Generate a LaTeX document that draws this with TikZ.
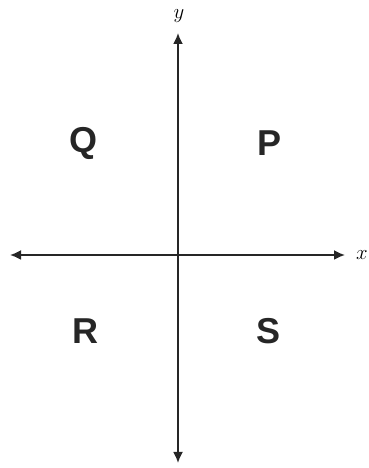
\documentclass[tikz,border=0pt]{standalone}
\usepackage{fontspec}
\newfontfamily\quadfont{Liberation Sans}
\usetikzlibrary{arrows.meta}
\begin{document}
\begin{tikzpicture}[x=1pt,y=1pt,
  axis/.style={line width=1.8pt,draw=black!85,{Latex[length=11pt,width=10pt]}-{Latex[length=11pt,width=10pt]}},
  quad/.style={font=\quadfont\bfseries\fontsize{36}{36}\selectfont,text=black!85,inner sep=0pt},
  axlabel/.style={font=\fontsize{20}{20}\selectfont,inner sep=0pt}]
\useasboundingbox (0,0) rectangle (369,468);
\coordinate (xl) at (10,213);
\coordinate (xr) at (345,213);
\coordinate (yb) at (178,5);
\coordinate (yt) at (178,435);
\draw[axis] (xl) -- (xr);
\draw[axis] (yb) -- (yt);
\node[axlabel] (ylab) at (179,452) {$y$};
\node[axlabel] (xlab) at (362,213) {$x$};
\node[quad] (Q) at (84,325) {Q};
\node[quad] (P) at (270,325) {P};
\node[quad] (R) at (85,137) {R};
\node[quad] (S) at (269,137) {S};
\end{tikzpicture}
\end{document}
